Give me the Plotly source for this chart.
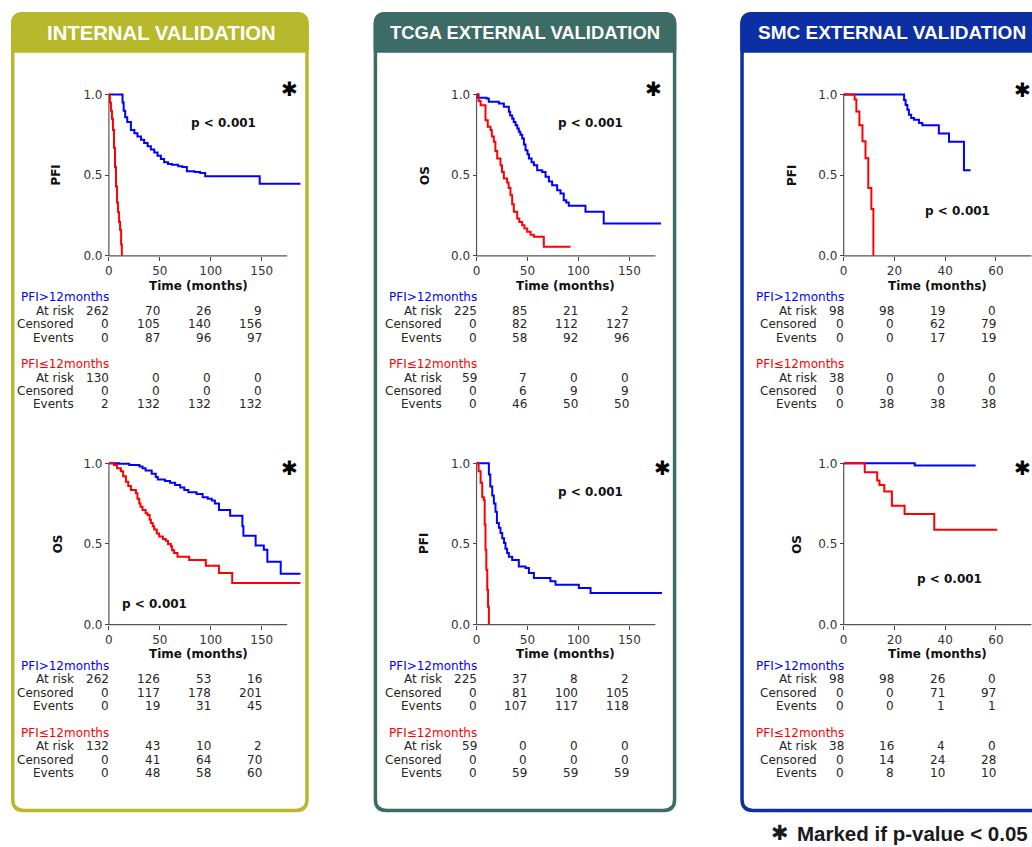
import plotly.graph_objects as go

W, H = 1032, 847

# ---------------- Kaplan-Meier curves: time (months), survival ----------------
# Internal validation - PFI
int_pfi_hi_t = [0, 13.4, 14.5, 16, 18, 21.6, 25, 28, 31.5, 34.6, 38, 41.2, 44.5, 47.7, 51, 54.2,
                58, 62, 68, 72, 76.5, 84, 89.6, 94.5, 148, 188]
int_pfi_hi_s = [1.0, 0.95, 0.90, 0.86, 0.83, 0.78, 0.76, 0.74, 0.72, 0.70, 0.68, 0.66, 0.64, 0.62, 0.60, 0.58,
                0.57, 0.565, 0.556, 0.55, 0.525, 0.52, 0.514, 0.494, 0.447, 0.447]
int_pfi_lo_t = [0, 1, 2, 3, 4, 5, 6, 7, 8, 9, 10, 11, 12, 12.7]
int_pfi_lo_s = [1.0, 0.95, 0.90, 0.85, 0.78, 0.67, 0.55, 0.43, 0.33, 0.27, 0.21, 0.16, 0.07, 0.0]

# Internal validation - OS
int_os_hi_t = [0, 10, 20, 30, 33, 36, 42, 46, 48, 55, 60, 65, 70, 74, 78, 86, 92, 97, 101, 104, 108,
               119, 131, 132, 144, 152, 155.5, 168.6, 188]
int_os_hi_s = [1.0, 0.997, 0.99, 0.98, 0.97, 0.955, 0.935, 0.915, 0.90, 0.89, 0.88, 0.865, 0.85, 0.835,
               0.82, 0.81, 0.79, 0.78, 0.77, 0.75, 0.71, 0.675, 0.61, 0.55, 0.49, 0.464, 0.39, 0.315, 0.315]
int_os_lo_t = [0, 5, 8, 11.8, 14, 16.7, 19, 21.6, 26.5, 28, 29.8, 31, 33, 36, 37.9, 40, 41.2, 43, 44.4,
               47, 49.3, 53, 55.8, 58, 60.8, 62, 64, 67.3, 78.8, 95.1, 108, 121, 188]
int_os_lo_s = [1.0, 0.99, 0.97, 0.95, 0.92, 0.886, 0.86, 0.835, 0.814, 0.78, 0.75, 0.73, 0.71, 0.69, 0.68,
               0.65, 0.63, 0.61, 0.59, 0.565, 0.546, 0.53, 0.52, 0.50, 0.485, 0.46, 0.443, 0.42, 0.40,
               0.365, 0.32, 0.258, 0.258]

# TCGA external validation - OS
tcga_os_hi_t = [0, 1.6, 9.8, 12, 21.9, 26.8, 31.7, 33, 35, 36.5, 38.3, 40, 41.5, 43, 44.8, 46.5, 48.1,
                50, 51.4, 54, 56.3, 59.5, 64.4, 67.7, 71, 74.2, 79.1, 82.4, 85.6, 88, 90.5, 106.9, 124.8, 181]
tcga_os_hi_s = [1.0, 0.98, 0.975, 0.955, 0.944, 0.924, 0.893, 0.87, 0.85, 0.83, 0.81, 0.79, 0.77, 0.75,
                0.727, 0.69, 0.655, 0.63, 0.603, 0.58, 0.562, 0.53, 0.52, 0.49, 0.46, 0.438, 0.407, 0.386,
                0.345, 0.33, 0.31, 0.273, 0.20, 0.20]
tcga_os_lo_t = [0, 2, 4, 8.8, 11, 13.7, 15, 17, 18.5, 20.3, 23.5, 25, 26.8, 30, 31.5, 33.3, 35, 36.6,
                39.9, 42, 44.8, 47, 49.7, 53, 56.2, 66, 92.2]
tcga_os_lo_s = [1.0, 0.96, 0.934, 0.84, 0.80, 0.78, 0.74, 0.707, 0.65, 0.603, 0.562, 0.52, 0.48, 0.455,
                0.42, 0.376, 0.32, 0.273, 0.231, 0.21, 0.19, 0.17, 0.149, 0.13, 0.118, 0.056, 0.056]

# TCGA external validation - PFI
tcga_pfi_hi_t = [0, 12.1, 13.5, 15.4, 17, 18.6, 20, 21.9, 23.5, 25.2, 27, 28.4, 30, 31.7, 35, 41.5,
                 48.1, 51.4, 56.3, 72.5, 77.5, 100.4, 111.9, 182]
tcga_pfi_hi_s = [1.0, 0.93, 0.856, 0.80, 0.75, 0.70, 0.63, 0.60, 0.567, 0.535, 0.505, 0.47, 0.443, 0.42,
                 0.40, 0.36, 0.35, 0.32, 0.289, 0.268, 0.247, 0.227, 0.196, 0.196]
tcga_pfi_lo_t = [0, 2, 4, 5.6, 7.2, 8, 8.8, 9.6, 10.5, 11.3, 12.1]
tcga_pfi_lo_s = [1.0, 0.95, 0.88, 0.79, 0.773, 0.62, 0.464, 0.34, 0.216, 0.11, 0.0]

# SMC external validation - PFI
smc_pfi_hi_t = [0, 23.8, 24.4, 25.1, 25.7, 26.6, 27.7, 29.7, 31, 37.5, 41.5, 47.4, 50]
smc_pfi_hi_s = [1.0, 0.967, 0.936, 0.906, 0.875, 0.855, 0.844, 0.824, 0.81, 0.758, 0.707, 0.53, 0.53]
smc_pfi_lo_t = [0, 4.3, 5, 6.2, 7.4, 8.6, 9.7, 10.9, 11.7]
smc_pfi_lo_s = [1.0, 0.97, 0.895, 0.81, 0.71, 0.605, 0.42, 0.29, 0.0]

# SMC external validation - OS
smc_os_hi_t = [0, 28, 52]
smc_os_hi_s = [1.0, 0.986, 0.986]
smc_os_lo_t = [0, 8.3, 13.2, 14.1, 16, 19, 24, 35.7, 60.5]
smc_os_lo_s = [1.0, 0.944, 0.893, 0.866, 0.825, 0.736, 0.685, 0.588, 0.588]

# ---------------- risk tables (at risk, censored, events) ----------------
int_pfi_hi_tab = [[262, 70, 26, 9], [0, 105, 140, 156], [0, 87, 96, 97]]
int_pfi_lo_tab = [[130, 0, 0, 0], [0, 0, 0, 0], [2, 132, 132, 132]]
int_os_hi_tab = [[262, 126, 53, 16], [0, 117, 178, 201], [0, 19, 31, 45]]
int_os_lo_tab = [[132, 43, 10, 2], [0, 41, 64, 70], [0, 48, 58, 60]]
tcga_os_hi_tab = [[225, 85, 21, 2], [0, 82, 112, 127], [0, 58, 92, 96]]
tcga_os_lo_tab = [[59, 7, 0, 0], [0, 6, 9, 9], [0, 46, 50, 50]]
tcga_pfi_hi_tab = [[225, 37, 8, 2], [0, 81, 100, 105], [0, 107, 117, 118]]
tcga_pfi_lo_tab = [[59, 0, 0, 0], [0, 0, 0, 0], [0, 59, 59, 59]]
smc_pfi_hi_tab = [[98, 98, 19, 0], [0, 0, 62, 79], [0, 0, 17, 19]]
smc_pfi_lo_tab = [[38, 0, 0, 0], [0, 0, 0, 0], [0, 38, 38, 38]]
smc_os_hi_tab = [[98, 98, 26, 0], [0, 0, 71, 97], [0, 0, 1, 1]]
smc_os_lo_tab = [[38, 16, 4, 0], [0, 14, 24, 28], [0, 8, 10, 10]]

row_names = ["At risk", "Censored", "Events"]
group_names = ["PFI&gt;12months", "PFI≤12months"]
group_colors = ["blue", "red"]
x_ticks_long = [0, 50, 100, 150]
x_ticks_short = [0, 20, 40, 60]
y_ticks = [0, 0.5, 1.0]
y_tick_text = ["0.0", "0.5", "1.0"]
p_text = "p &lt; 0.001"

# ---------------- page geometry (pixels) ----------------
ROW_S1 = [93.0, 463.5]     # vertical pixel of survival 1.0
ROW_S0 = [255.0, 625.5]    # vertical pixel of survival 0.0
COL_X0 = [108.0, 476.0, 843.5]
COL_PPU = [1.02, 1.02, 2.54]
COL_XMIN = [-3.0, -3.0, -1.5]
COL_XMAX = [192.0, 192.0, None]
COL_SPINE = [175.0, 175.5, 74.0]
COL_TICKS = [x_ticks_long, x_ticks_long, x_ticks_short]
COL_TIME_X = [198.0, 565.0, 937.0]
COL_ROWLAB_DX = [35.0, 35.0, 26.5]
GROUP_DX = 88.0
TABLE_DY = [41.7, 55.2, 68.7, 82.2, 108.8, 122.3, 135.8, 149.3]
YPAD = 0.03

panels = [
    dict(col=0, row=0, ylab="PFI", hi=(int_pfi_hi_t, int_pfi_hi_s), lo=(int_pfi_lo_t, int_pfi_lo_s),
         tabs=(int_pfi_hi_tab, int_pfi_lo_tab), p_xy=(222.5, 121.5), star_xy=(288.7, 87), ylab_x=55.5),
    dict(col=0, row=1, ylab="OS", hi=(int_os_hi_t, int_os_hi_s), lo=(int_os_lo_t, int_os_lo_s),
         tabs=(int_os_hi_tab, int_os_lo_tab), p_xy=(153.5, 605), star_xy=(288.7, 468), ylab_x=56.5),
    dict(col=1, row=0, ylab="OS", hi=(tcga_os_hi_t, tcga_os_hi_s), lo=(tcga_os_lo_t, tcga_os_lo_s),
         tabs=(tcga_os_hi_tab, tcga_os_lo_tab), p_xy=(590, 121.5), star_xy=(652.7, 87), ylab_x=424.3),
    dict(col=1, row=1, ylab="PFI", hi=(tcga_pfi_hi_t, tcga_pfi_hi_s), lo=(tcga_pfi_lo_t, tcga_pfi_lo_s),
         tabs=(tcga_pfi_hi_tab, tcga_pfi_lo_tab), p_xy=(589.7, 492.5), star_xy=(661.7, 468), ylab_x=423.5),
    dict(col=2, row=0, ylab="PFI", hi=(smc_pfi_hi_t, smc_pfi_hi_s), lo=(smc_pfi_lo_t, smc_pfi_lo_s),
         tabs=(smc_pfi_hi_tab, smc_pfi_lo_tab), p_xy=(957.3, 210), star_xy=(1022, 88), ylab_x=791.7),
    dict(col=2, row=1, ylab="OS", hi=(smc_os_hi_t, smc_os_hi_s), lo=(smc_os_lo_t, smc_os_lo_s),
         tabs=(smc_os_hi_tab, smc_os_lo_tab), p_xy=(949.7, 580), star_xy=(1022, 468), ylab_x=796.7),
]

frames = [
    ("INTERNAL VALIDATION", "#B7B82B", 10.0, 308.0, 161.0, 20.3),
    ("TCGA EXTERNAL VALIDATION", "#3D6B66", 373.0, 676.0, 525.0, 18.4),
    ("SMC EXTERNAL VALIDATION", "#0D2FA4", 740.0, 1062.0, 891.5, 19.0),
]


def px(x):
    return x / W


def py(y):
    return 1 - y / H


def rrect(x1, y1, x2, y2, rt, rb):
    """Rounded rectangle (pixel units) as a paper-coordinate SVG path."""
    def P(x, y):
        return f"{px(x):.5f},{py(y):.5f}"
    return (f"M{P(x1 + rt, y1)} L{P(x2 - rt, y1)} Q{P(x2, y1)} {P(x2, y1 + rt)} "
            f"L{P(x2, y2 - rb)} Q{P(x2, y2)} {P(x2 - rb, y2)} L{P(x1 + rb, y2)} "
            f"Q{P(x1, y2)} {P(x1, y2 - rb)} L{P(x1, y1 + rt)} Q{P(x1, y1)} {P(x1 + rt, y1)} Z")


fig = go.Figure()
shapes = []
annotations = []
axis_font = dict(family="DejaVu Sans", size=12, color="#333333")
table_font = dict(family="DejaVu Sans", size=12, color="#262626")
bold_font = dict(family="DejaVu Sans", size=12, color="#111111")


def note(text, x, y, xanchor="center", yanchor="middle", font=None, xref="paper", yref="paper", **kw):
    annotations.append(dict(text=text, x=x, y=y, xref=xref, yref=yref, xanchor=xanchor,
                            yanchor=yanchor, showarrow=False, font=font or table_font,
                            borderpad=0, borderwidth=0, **kw))


# panel frames and headers
for title, color, xl, xr, tx, fs in frames:
    shapes.append(dict(type="path", xref="paper", yref="paper", path=rrect(xl, 10, xr, 51, 12, 3),
                       fillcolor=color, line=dict(width=0), layer="above"))
    shapes.append(dict(type="path", xref="paper", yref="paper",
                       path=rrect(xl + 1.75, 11.75, xr - 1.75, 812.25, 11, 11),
                       fillcolor="rgba(0,0,0,0)", line=dict(color=color, width=3.5), layer="above"))
    note(f"<b>{title}</b>", px(tx), py(31),
         font=dict(family="Liberation Sans", size=fs, color="white"))

layout_axes = {}
for i, p in enumerate(panels):
    n = i + 1
    sfx = "" if n == 1 else str(n)
    xa, ya = "x" + sfx, "y" + sfx
    c, r = p["col"], p["row"]
    x0, ppu = COL_X0[c], COL_PPU[c]
    xmin = COL_XMIN[c]
    xmax = COL_XMAX[c] if COL_XMAX[c] is not None else (W - x0) / ppu
    s1, s0 = ROW_S1[r], ROW_S0[r]
    span = s0 - s1
    dom_x = [px(x0 + xmin * ppu), min(1.0, px(x0 + xmax * ppu))]
    dom_y = [py(s0 + YPAD * span), py(s1 - YPAD * span)]

    for (t, s), col in ((p["hi"], "blue"), (p["lo"], "red")):
        fig.add_trace(go.Scatter(x=t, y=s, mode="lines", xaxis=xa, yaxis=ya,
                                 line=dict(color=col, width=2, shape="hv"),
                                 showlegend=False, hoverinfo="skip"))

    layout_axes["xaxis" + sfx] = dict(
        domain=dom_x, range=[xmin, xmax], anchor="free", position=py(s0),
        tickmode="array", tickvals=COL_TICKS[c], ticks="outside", ticklen=4, tickwidth=1,
        tickcolor="#444444", showgrid=False, zeroline=False, showline=False,
        tickfont=axis_font, fixedrange=True)
    layout_axes["yaxis" + sfx] = dict(
        domain=dom_y, range=[-YPAD, 1 + YPAD], anchor="free", position=px(x0),
        tickmode="array", tickvals=y_ticks, ticktext=y_tick_text, ticks="outside", ticklen=4,
        tickwidth=1, tickcolor="#444444", showgrid=False, zeroline=False, showline=False,
        tickfont=axis_font, fixedrange=True)

    # spines
    shapes.append(dict(type="line", xref=xa, yref=ya, x0=0, x1=COL_SPINE[c], y0=0, y1=0,
                       line=dict(color="#555555", width=1.2), layer="below"))
    shapes.append(dict(type="line", xref=xa, yref=ya, x0=0, x1=0, y0=0, y1=1,
                       line=dict(color="#555555", width=1.2), layer="below"))

    # labels
    note(f"<b>{p['ylab']}</b>", px(p["ylab_x"]), py((s0 + s1) / 2), font=bold_font, textangle=-90)
    note("<b>Time (months)</b>", px(COL_TIME_X[c]), py(s0 + 30), font=bold_font)
    note(f"<b>{p_text}</b>", px(p["p_xy"][0]), py(p["p_xy"][1]), font=bold_font)
    note("<b>✱</b>", px(p["star_xy"][0]), py(p["star_xy"][1]),
         font=dict(family="DejaVu Sans", size=20, color="black"))

    # risk tables
    for g, tab in enumerate(p["tabs"]):
        base = 4 * g
        note(group_names[g], px(x0 - GROUP_DX), py(s0 + TABLE_DY[base]), xanchor="left",
             font=dict(family="DejaVu Sans", size=12, color=group_colors[g]))
        for k, name in enumerate(row_names):
            yy = py(s0 + TABLE_DY[base + 1 + k])
            note(name, px(x0 - COL_ROWLAB_DX[c]), yy, xanchor="right")
            for tv, val in zip(COL_TICKS[c], tab[k]):
                note(str(val), tv, yy, xanchor="right", xref=xa)

# footnote
note("<b>✱</b>", px(780), py(835), font=dict(family="DejaVu Sans", size=21, color="#1a1a1a"))
note("<b>Marked if p-value &lt; 0.05</b>", px(797), py(835.5), xanchor="left",
     font=dict(family="Liberation Sans", size=20.5, color="#1a1a1a"))

fig.update_layout(
    width=W, height=H, margin=dict(l=0, r=0, t=0, b=0),
    paper_bgcolor="white", plot_bgcolor="rgba(0,0,0,0)",
    shapes=shapes, annotations=annotations, showlegend=False,
    **layout_axes)

fig.write_html("out.html", config={"displayModeBar": False})
